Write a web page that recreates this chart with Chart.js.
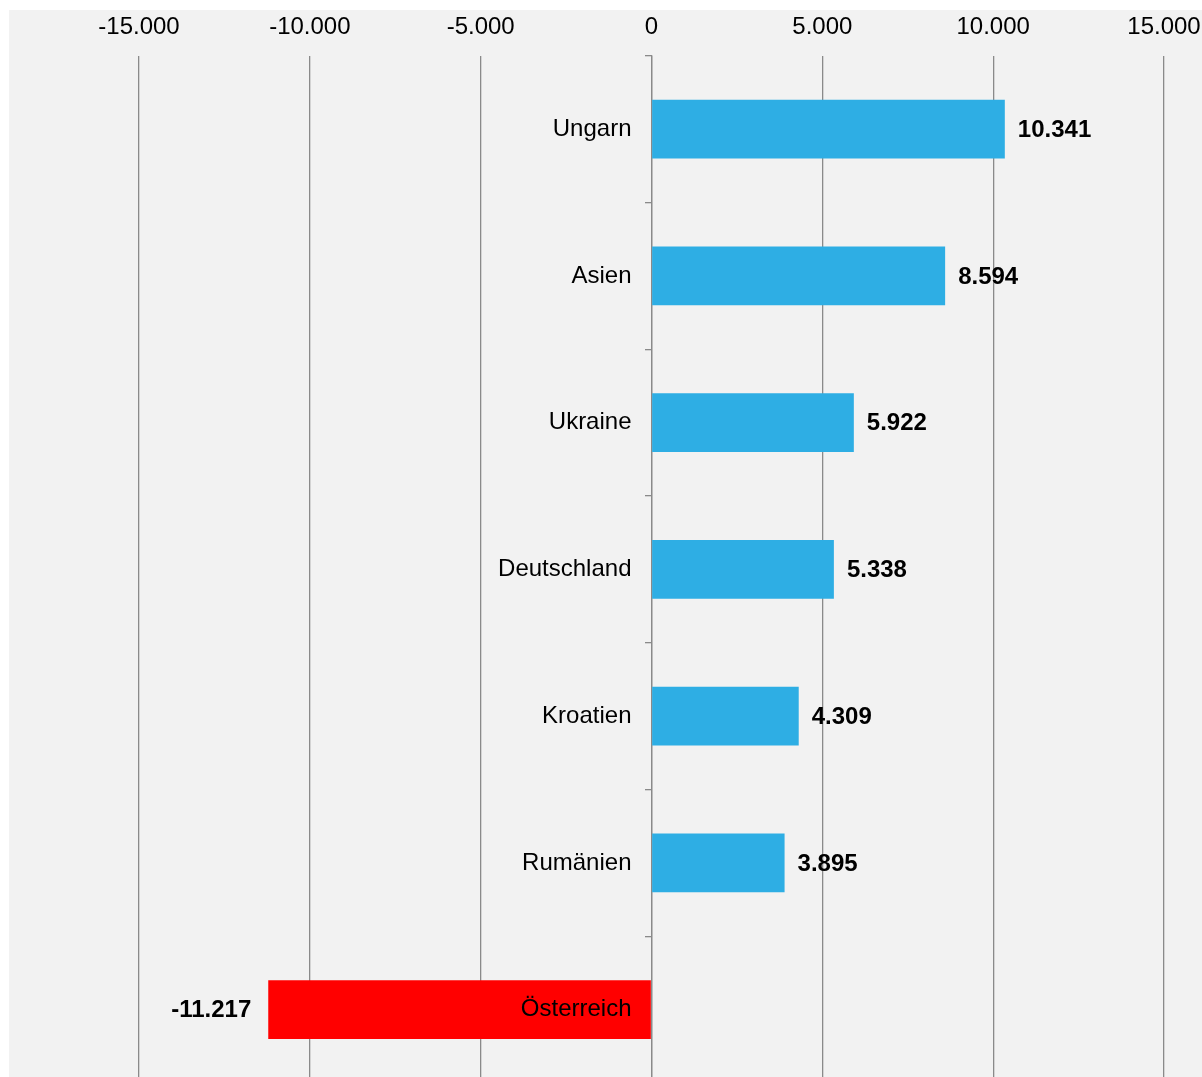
<!DOCTYPE html>
<html>
<head>
<meta charset="utf-8">
<script src="https://cdn.jsdelivr.net/npm/chart.js@4"></script>
<style>
  html, body { margin: 0; padding: 0; background: #fff; overflow: hidden; }
  #bg { position: absolute; left: 9px; top: 10px; width: 1193px; height: 1067px; background: #f2f2f2; }
  #box { position: absolute; left: 9px; top: -1px; width: 1193px; height: 1091px; }
</style>
</head>
<body>
<div id="bg"></div>
<div id="box"><canvas id="chart"></canvas></div>
<script>
const labels = ['Ungarn', 'Asien', 'Ukraine', 'Deutschland', 'Kroatien', 'Rumänien', 'Österreich']
const values = [10341, 8594, 5922, 5338, 4309, 3895, -11217]
const barColors = ['#2eaee4', '#2eaee4', '#2eaee4', '#2eaee4', '#2eaee4', '#2eaee4', '#ff0000']
const xMin = -15000
const xMax = 15000
const xStep = 5000

const fontFamily = '"Liberation Sans", Arial, sans-serif'
const gridColor = '#8a8a8a'

function formatDe(n){
    const s = Math.abs(n).toString().replace(/\B(?=(\d{3})+(?!\d))/g, '.')
    return (n < 0 ? '-' : '') + s
}

// no extra padding from the scales, layout.padding decides the chart area
function noScalePadding(scale){
    scale.paddingTop = 0
    scale.paddingBottom = 0
    scale.paddingLeft = 0
    scale.paddingRight = 0
}

// value labels next to the bar ends
const valueLabels = {
    id: 'valueLabels',
    afterDatasetsDraw(chart){
        const ctx = chart.ctx
        const meta = chart.getDatasetMeta(0)
        ctx.save()
        ctx.font = 'bold 24px ' + fontFamily
        ctx.fillStyle = '#000'
        ctx.textBaseline = 'middle'
        meta.data.forEach((bar, i) => {
            const v = values[i]
            if(v >= 0){
                ctx.textAlign = 'left'
                ctx.fillText(formatDe(v), bar.x + 13, bar.y + 1)
            }else{
                ctx.textAlign = 'right'
                ctx.fillText(formatDe(v), bar.x - 17, bar.y + 1)
            }
        })
        ctx.restore()
    }
}

new Chart(document.querySelector('#chart'), {
    type: 'bar',
    data: {
        labels: labels,
        datasets: [{
            data: values,
            backgroundColor: barColors,
            borderWidth: 0,
            barPercentage: 0.4,
            categoryPercentage: 1
        }]
    },
    options: {
        indexAxis: 'y',
        responsive: true,
        maintainAspectRatio: false,
        animation: false,
        layout: {
            padding: { left: 130, right: 38, top: 0, bottom: 7 }
        },
        plugins: {
            legend: { display: false },
            tooltip: { enabled: false }
        },
        scales: {
            x: {
                position: 'top',
                min: xMin,
                max: xMax,
                afterFit: noScalePadding,
                ticks: {
                    stepSize: xStep,
                    padding: 14,
                    color: '#000',
                    font: { family: fontFamily, size: 24 },
                    callback: v => formatDe(v)
                },
                grid: {
                    color: gridColor,
                    lineWidth: 1.3,
                    drawTicks: false
                },
                border: { display: false }
            },
            y: {
                position: { x: 0 },
                afterFit: noScalePadding,
                ticks: {
                    z: 1,
                    color: '#000',
                    font: { family: fontFamily, size: 24 },
                    // trailing spaces keep the label clear of the zero line
                    callback: (v, i) => labels[i] + '   '
                },
                grid: {
                    drawOnChartArea: false,
                    tickLength: 6,
                    color: gridColor,
                    lineWidth: 1.3,
                    offset: true
                },
                border: { color: gridColor, width: 1.3 }
            }
        }
    },
    plugins: [valueLabels]
})
</script>
</body>
</html>
